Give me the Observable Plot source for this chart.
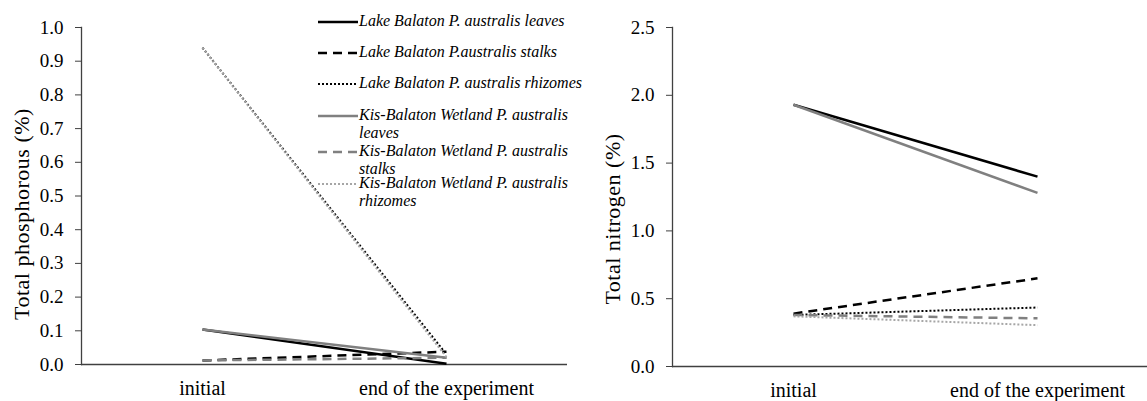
<!DOCTYPE html>
<html>
<head>
<meta charset="utf-8">
<script src="https://cdn.jsdelivr.net/npm/d3@7"></script>
<script src="https://cdn.jsdelivr.net/npm/@observablehq/plot@0.6"></script>
<style>
  html, body { margin: 0; padding: 0; background: #fff; }
  #wrap { position: relative; width: 1147px; height: 401px; overflow: hidden; font-family: "Liberation Serif", "Times New Roman", serif; }
  #left, #right { position: absolute; top: 0; }
  #left { left: 0; }
  #right { left: 591px; }
  #legend { position: absolute; left: 318px; top: 0; font-style: italic; font-size: 16px; line-height: 18px; color: #000; }
  .item { position: absolute; left: 0; display: flex; align-items: flex-start; }
  .item svg { flex: none; margin-right: 1px; }
  .item span { width: 232px; white-space: normal; }
</style>
</head>
<body>
<div id="wrap">
  <div id="left"></div>
  <div id="right"></div>
  <div id="legend"></div>
</div>
<script>
// ---- data ----
const categories = ["initial", "end of the experiment"];
const seriesNames = [
  "Lake Balaton P. australis leaves",
  "Lake Balaton P.australis stalks",
  "Lake Balaton P. australis rhizomes",
  "Kis-Balaton Wetland P. australis leaves",
  "Kis-Balaton Wetland P. australis stalks",
  "Kis-Balaton Wetland P. australis rhizomes"
];
const phosphorusInitial = [0.104, 0.012, 0.94, 0.104, 0.012, 0.94];
const phosphorusEnd     = [0.002, 0.038, 0.03, 0.02, 0.02, 0.022];
const nitrogenInitial   = [1.93, 0.39, 0.38, 1.93, 0.38, 0.37];
const nitrogenEnd       = [1.40, 0.65, 0.435, 1.28, 0.355, 0.305];
const phosphorusTicks = [0, 0.1, 0.2, 0.3, 0.4, 0.5, 0.6, 0.7, 0.8, 0.9, 1.0];
const nitrogenTicks = [0, 0.5, 1.0, 1.5, 2.0, 2.5];
const yLabels = ["Total phosphorous (%)", "Total nitrogen (%)"];

// ---- styles ----
const styles = [
  {stroke: "#000000", strokeWidth: 2.5, dash: null},
  {stroke: "#000000", strokeWidth: 2.5, dash: "9,6"},
  {stroke: "#000000", strokeWidth: 2, dash: "2,2"},
  {stroke: "#808080", strokeWidth: 2.5, dash: null},
  {stroke: "#808080", strokeWidth: 2.5, dash: "9,6"},
  {stroke: "#a6a6a6", strokeWidth: 2, dash: "2,2"}
];
const SERIF = "'Liberation Serif', 'Times New Roman', serif";

function rows(initial, end) {
  return seriesNames.map((s, i) => [
    {series: s, idx: i, stage: categories[0], value: initial[i]},
    {series: s, idx: i, stage: categories[1], value: end[i]}
  ]);
}

function chart({width, marginRight, zeroY, domain, ticks, label, labelShift, data}) {
  const marks = [
    Plot.frame({anchor: "left", stroke: "#404040", strokeWidth: 1.3}),
    Plot.ruleY([0], {stroke: "#404040", strokeWidth: 1.3}),
    Plot.axisY({ticks, tickSize: 6, tickPadding: 12, tickFormat: d3.format(".1f"), label: null, stroke: "#404040", fontSize: 19}),
    Plot.axisY({ticks: [], tickSize: 0, label, labelAnchor: "center", labelArrow: "none", labelOffset: 68, fontSize: 22}),
    Plot.axisX({tickSize: 0, tickPadding: 16, label: null, fontSize: 20})
  ];
  data.forEach((d, i) => {
    const st = styles[i];
    marks.push(Plot.line(d, {x: "stage", y: "value", stroke: st.stroke, strokeWidth: st.strokeWidth, strokeDasharray: st.dash, strokeLinecap: "butt"}));
  });
  const svg = Plot.plot({
    width, height: 401,
    marginLeft: 81, marginRight, marginTop: 27, marginBottom: 401 - zeroY,
    style: {fontFamily: SERIF, color: "#000", background: "transparent"},
    x: {type: "point", domain: categories, range: [202, 446], padding: 0},
    y: {domain, range: [zeroY, 27]},
    marks
  });
  svg.querySelectorAll("text").forEach(t => t.setAttribute("font-family", SERIF));
  svg.querySelectorAll('[aria-label="y-axis label"] text').forEach(t => {
    t.setAttribute("dx", labelShift);
    t.style.letterSpacing = "0.5px";
  });
  return svg;
}

document.getElementById("left").append(chart({
  width: 580, marginRight: 13, zeroY: 364, domain: [0, 1], ticks: phosphorusTicks, label: yLabels[0], labelShift: -18,
  data: rows(phosphorusInitial, phosphorusEnd)
}));
document.getElementById("right").append(chart({
  width: 556, marginRight: 0, zeroY: 366, domain: [0, 2.5], ticks: nitrogenTicks, label: yLabels[1], labelShift: -22,
  data: rows(nitrogenInitial, nitrogenEnd)
}));

// ---- legend ----
const legendTops = [12, 43, 74, 106, 142, 174];
const legend = document.getElementById("legend");
seriesNames.forEach((name, i) => {
  const st = styles[i];
  const item = document.createElement("div");
  item.className = "item";
  item.style.top = legendTops[i] + "px";
  const svg = d3.create("svg").attr("width", 40).attr("height", 18);
  svg.append("line").attr("x1", 0).attr("x2", 40).attr("y1", 10).attr("y2", 10)
    .attr("stroke", st.stroke).attr("stroke-width", st.strokeWidth)
    .attr("stroke-dasharray", st.dash);
  item.append(svg.node());
  const span = document.createElement("span");
  span.textContent = name;
  item.append(span);
  legend.append(item);
});
</script>
</body>
</html>
